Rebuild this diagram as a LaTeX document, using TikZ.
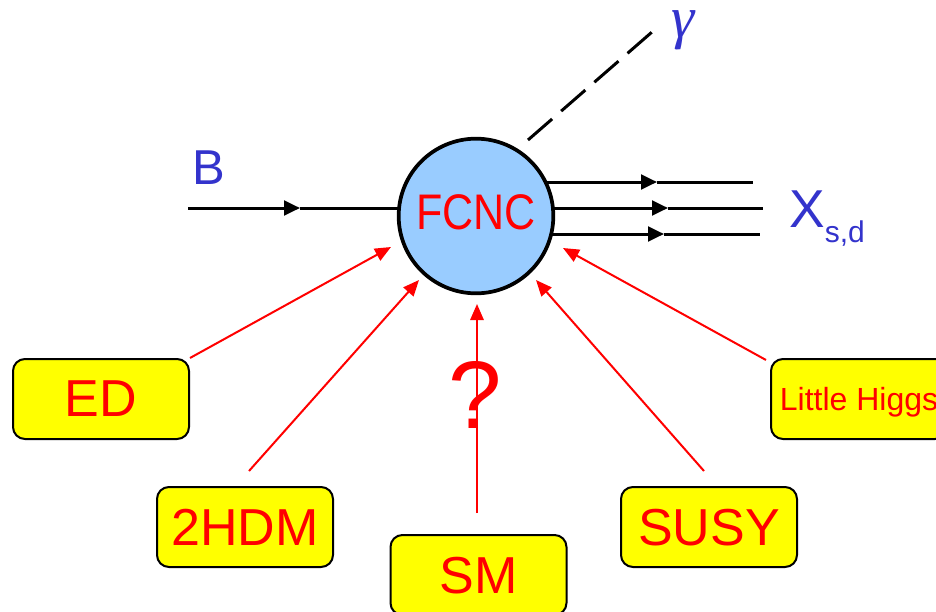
\documentclass[tikz,border=0pt]{standalone}
\usepackage{fontspec}
\setmainfont{Liberation Sans}
\newfontfamily\serifg{Liberation Serif}
\usetikzlibrary{arrows.meta}
\definecolor{tblue}{HTML}{3333CC}
\definecolor{cfill}{HTML}{99CCFF}
\definecolor{byellow}{HTML}{FFFF00}
\definecolor{tred}{HTML}{FF0000}
\tikzset{
  fline/.style={line width=2.25pt,black},
  farrow/.style={fline,-{Triangle[length=12pt,width=11pt]}},
  modelbox/.style={draw=black,line width=1.5pt,fill=byellow,rounded corners=9pt,
    minimum width=132pt,minimum height=60pt,inner sep=0pt,text=tred,text depth=0pt,
    font=\fontsize{39}{42}\selectfont},
  redarrow/.style={draw=tred,line width=1.5pt,-{Triangle[length=12pt,width=10pt]}},
  bluetext/.style={text=tblue,inner sep=0pt}
}
\begin{document}
\begin{tikzpicture}[x=0.75pt,y=-0.75pt]
\useasboundingbox (0,0) rectangle (936,611);
\clip (0,0) rectangle (936,611);
% photon
\coordinate (gs) at (528,140);
\coordinate (ge) at (652,32);
\draw[line width=2.25pt,dash pattern=on 24pt off 9pt] (gs) -- (ge);
\node[bluetext,font=\serifg\itshape\fontsize{44}{48}\selectfont] (gamma) at (683,30) {γ};
% incoming B
\coordinate (bs) at (188,208);
\coordinate (bt) at (300,208);
\coordinate (be) at (400,208);
\draw[farrow] (bs) -- (bt);
\draw[fline] (bt) -- (be);
\node[bluetext,font=\fontsize{36.75}{40}\selectfont] (B) at (209,168) {B};
% outgoing lines
\coordinate (o1s) at (540,182); \coordinate (o1t) at (657,182); \coordinate (o1e) at (753,182);
\coordinate (o2s) at (550,208); \coordinate (o2t) at (668,208); \coordinate (o2e) at (763,208);
\coordinate (o3s) at (545,234); \coordinate (o3t) at (664,234); \coordinate (o3e) at (760,234);
\draw[farrow] (o1s) -- (o1t); \draw[fline] (o1t) -- (o1e);
\draw[farrow] (o2s) -- (o2t); \draw[fline] (o2t) -- (o2e);
\draw[farrow] (o3s) -- (o3t); \draw[fline] (o3t) -- (o3e);
% FCNC circle
\node[circle,draw=black,line width=2.8pt,fill=cfill,minimum size=116pt,inner sep=0pt] (fcnc) at (476,216) {};
\node[text=tred,inner sep=0pt] (fcnctext) at (476,212) {\scalebox{0.86}[1]{\fontsize{37.5}{40}\selectfont FCNC}};
% X_{s,d}
\node[bluetext,anchor=base west,font=\fontsize{40}{44}\selectfont] (X) at (789,227) {X\raisebox{-11.25pt}{\fontsize{22.5}{24}\selectfont s,d}};
% boxes
\node[modelbox] (ed) at (101,399) {ED};
\node[modelbox] (hdm) at (245,527) {2HDM};
\node[modelbox] (sm) at (478.5,575) {SM};
\node[modelbox] (susy) at (709,527) {SUSY};
\node[modelbox,font=\fontsize{24}{26}\selectfont] (lh) at (859,399) {Little Higgs};
% question mark
\node[text=tred,inner sep=0pt,font=\fontsize{72}{76}\selectfont] (q) at (475,395) {?};
% red arrows
\coordinate (edt) at (391,247);
\coordinate (hdms) at (249,471); \coordinate (hdmt) at (419,280);
\coordinate (sms) at (477,513); \coordinate (smt) at (477,304);
\coordinate (susys) at (704,471); \coordinate (susyt) at (536,280);
\coordinate (lhs) at (766,360); \coordinate (lht) at (563,248);
\draw[redarrow] (ed.north east) -- (edt);
\draw[redarrow] (hdms) -- (hdmt);
\draw[redarrow] (sms) -- (smt);
\draw[redarrow] (susys) -- (susyt);
\draw[redarrow] (lhs) -- (lht);
\end{tikzpicture}
\end{document}
